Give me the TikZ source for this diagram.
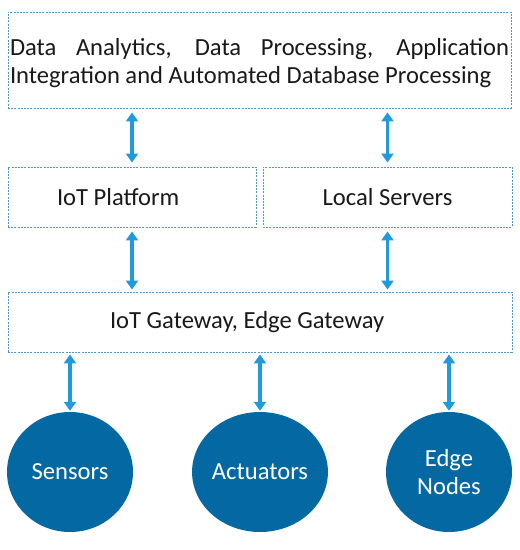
\documentclass[tikz,border=0pt]{standalone}
\usepackage{fontspec}
\setmainfont{Carlito}
\usetikzlibrary{arrows.meta,shapes.geometric}
\definecolor{boxline}{RGB}{80,150,200}
\definecolor{arrblue}{RGB}{30,155,220}
\definecolor{circblue}{RGB}{4,104,162}
\definecolor{txt}{RGB}{25,25,25}
\begin{document}
\begin{tikzpicture}[x=1pt,y=-1pt,
  dbox/.style={draw=boxline,line width=0.9pt,dash pattern=on 2pt off 1.2pt,
    text=txt,font=\fontsize{24.6}{28.5}\selectfont,inner ysep=0pt},
  bubble/.style={ellipse,fill=circblue,text=white,minimum width=126pt,minimum height=120pt,
    inner sep=0pt,align=center,font=\fontsize{24.6}{28.5}\selectfont},
  arr/.style={draw=arrblue,line width=3.5pt,
    {Triangle[width=12pt,length=9pt]}-{Triangle[width=12pt,length=9pt]}}
]
\useasboundingbox (0,0) rectangle (520,550);
\node[dbox,text width=499pt,inner xsep=2pt,minimum height=96pt,align=justify] (top) at (259.5,60)
  {Data Analytics, Data Processing, Application\linebreak Integration and Automated Database Processing\par\vspace*{-6pt}};
\node[dbox,text width=150pt,inner xsep=49pt,minimum height=60pt,align=flush left] (plat) at (132,197) {IoT Platform};
\node[dbox,minimum width=249pt,minimum height=60pt,inner xsep=0pt] (serv) at (387.5,197) {Local Servers};
\node[dbox,text width=300pt,inner xsep=102pt,minimum height=60pt,align=flush left] (gw) at (260,322) {IoT Gateway, Edge Gateway};
\node[bubble] (sens) at (70,472) {Sensors};
\node[bubble] (act) at (260,472) {Actuators};
\node[bubble] (edge) at (449,472) {Edge\\Nodes};
\draw[arr] ([yshift=-4pt]top.south -| plat.center) -- ([yshift=4pt]plat.north);
\draw[arr] ([yshift=-4pt]top.south -| serv.center) -- ([yshift=4pt]serv.north);
\draw[arr] ([yshift=-4pt]plat.south) -- ([yshift=2pt]gw.north -| plat.center);
\draw[arr] ([yshift=-4pt]serv.south) -- ([yshift=2pt]gw.north -| serv.center);
\draw[arr] ([yshift=-2pt]gw.south -| sens.north) -- ([yshift=1pt]sens.north);
\draw[arr] ([yshift=-2pt]gw.south -| act.north) -- ([yshift=1pt]act.north);
\draw[arr] ([yshift=-2pt]gw.south -| edge.north) -- ([yshift=1pt]edge.north);
\end{tikzpicture}
\end{document}
